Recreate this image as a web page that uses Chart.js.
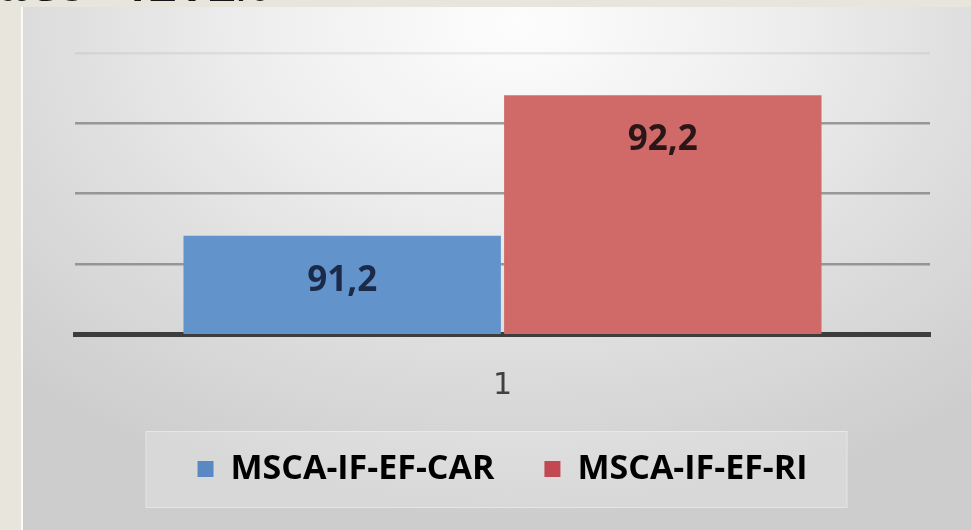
<!DOCTYPE html>
<html>
<head>
<meta charset="utf-8">
<script src="https://cdn.jsdelivr.net/npm/chart.js@4.4.1/dist/chart.umd.min.js"></script>
<style>
html, body { margin:0; padding:0; width:971px; height:530px; overflow:hidden; background:#e7e5dc; }
#kopf { position:absolute; left:-3px; top:-37px; z-index:3; font:bold 50px "Liberation Mono", monospace; line-height:50px; color:#151515; white-space:nowrap; }
#rub { position:absolute; left:21px; top:7px; width:2px; height:523px; background:#fbfbf7; }
#panel { position:absolute; left:23px; top:7px; width:948px; height:523px;
  background: radial-gradient(ellipse 75% 95% at 52% 3%, #fdfdfd 0%, #efefef 35%, #dedede 65%, #cdcdcd 100%); }
</style>
</head>
<body>
<div id="kopf">ate 41.2%</div>
<div id="rub"></div>
<div id="panel"><canvas id="grafik"></canvas></div>
<script>
// podaci
var kategorije = ['1'];
var serije = ['MSCA-IF-EF-CAR', 'MSCA-IF-EF-RI'];
var vrednostiCAR = [91.2];
var vrednostiRI = [92.2];
var yPodeoci = [90.5, 91, 91.5, 92, 92.5];

// boje
var bojeStubova = ['#6294cb', '#cf6a69'];
var bojeLegende = ['#5a88c2', '#c24852'];
var bojeBrojeva = ['#1b2a48', '#2a1616'];

// brojevi na stubovima (91,2 / 92,2)
var natpisi = {
  id: 'natpisi',
  afterDatasetsDraw: function(chart) {
    var ctx = chart.ctx;
    chart.data.datasets.forEach(function(ds, i) {
      chart.getDatasetMeta(i).data.forEach(function(bar, j) {
        ctx.save();
        ctx.font = 'bold 35px "Open Sans"';
        ctx.fillStyle = bojeBrojeva[i];
        ctx.textAlign = 'center';
        ctx.textBaseline = 'middle';
        ctx.fillText(ds.data[j].toFixed(1).replace('.', ','), bar.x, bar.y + 45);
        ctx.restore();
      });
    });
  }
};

// svetliji okvir oko legende
var okvirLegende = {
  id: 'okvirLegende',
  beforeDraw: function(chart) {
    var hb = chart.legend.legendHitBoxes;
    if (!hb || !hb.length) return;
    var last = hb[hb.length - 1];
    var x0 = hb[0].left - 52, x1 = last.left + last.width + 40;
    var yc = hb[0].top + hb[0].height / 2;
    var ctx = chart.ctx;
    ctx.save();
    ctx.fillStyle = 'rgba(255,255,255,0.22)';
    ctx.strokeStyle = 'rgba(255,255,255,0.35)';
    ctx.lineWidth = 1;
    ctx.fillRect(x0, yc - 38, x1 - x0, 77);
    ctx.strokeRect(x0 + 0.5, yc - 37.5, x1 - x0 - 1, 76);
    ctx.restore();
  }
};

var canvas = document.getElementById('grafik');
var ctx = canvas.getContext('2d');
var myChart = new Chart(ctx, {
  type: 'bar',
  data: {
    labels: kategorije,
    datasets: [{
      label: serije[0],
      data: vrednostiCAR,
      backgroundColor: bojeStubova[0],
      borderWidth: 0
    }, {
      label: serije[1],
      data: vrednostiRI,
      backgroundColor: bojeStubova[1],
      borderWidth: 0
    }]
  },
  options: {
    responsive: true,
    maintainAspectRatio: false,
    animation: false,
    categoryPercentage: 0.75,
    barPercentage: 0.99,
    layout: { padding: { left: 52, right: 41, top: 46, bottom: 34 } },
    scales: {
      x: {
        z: 1,
        grid: { display: false },
        border: { display: true, color: '#3d3d3d', width: 5 },
        ticks: { color: '#404040', font: { family: '"DejaVu Sans"', size: 30 }, padding: 26 },
        afterFit: function(axis) { axis.height = axis.height - 28; }
      },
      y: {
        min: 90.5,
        max: 92.5,
        afterBuildTicks: function(axis) {
          axis.ticks = yPodeoci.map(function(v) { return { value: v }; });
        },
        ticks: { display: false },
        border: { display: false },
        grid: {
          drawTicks: false,
          color: function(c) {
            if (c.tick.value === 90.5) return 'rgba(0,0,0,0)';
            if (c.tick.value === 92.5) return 'rgba(140,140,140,0.15)';
            return 'rgba(120,120,120,0.7)';
          },
          lineWidth: 2.5
        }
      }
    },
    plugins: {
      tooltip: { enabled: false },
      legend: {
        position: 'bottom',
        labels: {
          color: '#3f3f3f',
          font: { family: '"Open Sans"', size: 34, weight: 'bold' },
          boxWidth: 16,
          boxHeight: 16,
          padding: 50,
          generateLabels: function(chart) {
            return chart.data.datasets.map(function(ds, i) {
              return { text: ds.label, fillStyle: bojeLegende[i], strokeStyle: bojeLegende[i], lineWidth: 0, datasetIndex: i };
            });
          }
        }
      }
    }
  },
  plugins: [natpisi, okvirLegende]
});
</script>
</body>
</html>
